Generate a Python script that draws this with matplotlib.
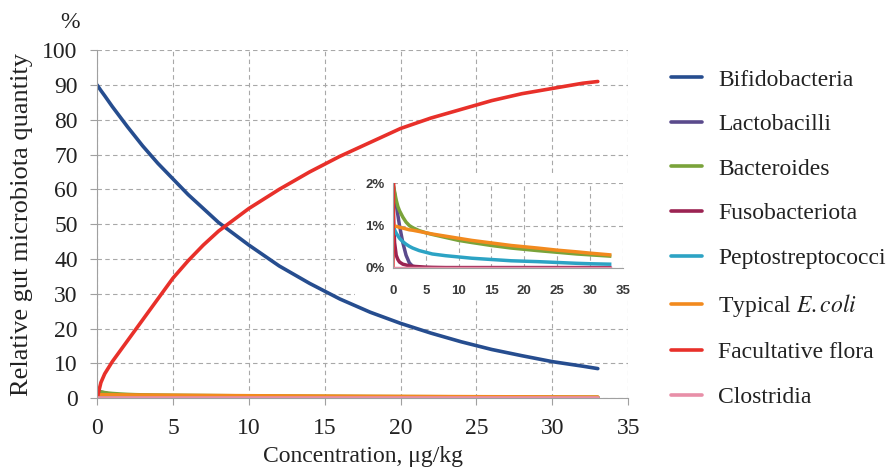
import matplotlib
matplotlib.use("Agg")
import matplotlib.pyplot as plt

plt.rcParams['font.family'] = ['Liberation Serif', 'DejaVu Serif']
plt.rcParams['mathtext.fontset'] = 'stix'

# main series (percent)
x_main = [0, 0.25, 0.5, 1, 1.5, 2, 3, 4, 5, 6, 7, 8, 10, 12, 14, 16, 18, 20, 22, 24, 26, 28, 30, 32, 33]
bifido = [90, 88.4, 86.9, 83.8, 80.9, 78, 72.5, 67.5, 63, 58.5, 54.5, 50.5, 44, 38, 33, 28.5, 24.7, 21.5, 18.7, 16.2, 14, 12.2, 10.5, 9.2, 8.5]
facult = [0, 4.5, 7, 10.5, 13.5, 16.5, 22.5, 28.5, 34.5, 39.5, 44, 48, 54.5, 60, 65, 69.5, 73.5, 77.5, 80.5, 83, 85.5, 87.5, 89, 90.5, 91]

# minor series (percent)
x_minor = [0, 0.25, 0.5, 0.75, 1, 1.5, 2, 2.5, 3, 4, 5, 6, 8, 10, 12, 15, 18, 20, 22, 25, 28, 30, 33]
lacto = [2.0, 1.75, 1.5, 1.25, 1.0, 0.6, 0.3, 0.12, 0.04, 0.01, 0, 0, 0, 0, 0, 0, 0, 0, 0, 0, 0, 0, 0]
bactero = [2.0, 1.8, 1.6, 1.45, 1.35, 1.2, 1.08, 1.0, 0.95, 0.88, 0.83, 0.79, 0.72, 0.65, 0.6, 0.53, 0.47, 0.44, 0.41, 0.37, 0.33, 0.31, 0.28]
fuso = [1.6, 0.6, 0.3, 0.2, 0.14, 0.09, 0.07, 0.05, 0.04, 0.03, 0.02, 0.015, 0.01, 0.01, 0.01, 0.01, 0.01, 0.01, 0.01, 0.01, 0.01, 0.01, 0.01]
pepto = [1.0, 0.9, 0.82, 0.76, 0.7, 0.62, 0.56, 0.51, 0.47, 0.41, 0.37, 0.33, 0.29, 0.26, 0.23, 0.2, 0.17, 0.16, 0.15, 0.13, 0.11, 0.1, 0.09]
ecoli = [1.0, 0.99, 0.98, 0.97, 0.96, 0.94, 0.92, 0.9, 0.89, 0.86, 0.83, 0.8, 0.75, 0.7, 0.65, 0.59, 0.53, 0.5, 0.47, 0.42, 0.38, 0.35, 0.31]
clostr = [0.01] * len(x_minor)

names = ['Bifidobacteria', 'Lactobacilli', 'Bacteroides', 'Fusobacteriota',
         'Peptostreptococci', 'Typical $\\mathit{E.coli}$', 'Facultative flora', 'Clostridia']
colors = ['#264D8F', '#5A4A8C', '#7AA33A', '#9B2352', '#2CA3C4', '#F28A1E', '#E8302A', '#E88FA8']

series = [(x_main, bifido), (x_minor, lacto), (x_minor, bactero), (x_minor, fuso),
          (x_minor, pepto), (x_minor, ecoli), (x_main, facult), (x_minor, clostr)]

FS = 17

fig = plt.figure(figsize=(8.91, 4.69), dpi=100)
ax = fig.add_axes([0.109, 0.151, 0.596, 0.742])

grid_kw = dict(color='#A8A8A8', linestyle=(0, (4, 3)), linewidth=0.8)

lines = []
for (xs, ys), name, c in zip(series, names, colors):
    ln, = ax.plot(xs, ys, color=c, lw=2.6, label=name, solid_capstyle='round')
    lines.append(ln)

ax.set_xlim(0, 35)
ax.set_ylim(0, 100)
ax.set_xticks(range(0, 36, 5))
ax.set_yticks(range(0, 101, 10))
ax.grid(True, **grid_kw)
ax.set_axisbelow(True)
for s in ['top', 'right']:
    ax.spines[s].set_visible(False)
for s in ['left', 'bottom']:
    ax.spines[s].set_color('#A0A0A0')
ax.tick_params(colors='#A0A0A0', labelcolor='#222222', labelsize=FS, length=5)
ax.tick_params(axis='y', pad=9)
ax.tick_params(axis='x', pad=9)
ax.set_xlabel('Concentration, μg/kg', fontsize=FS, color='#222222', labelpad=5)
ax.set_ylabel('Relative gut microbiota quantity', fontsize=19, color='#222222')
ax.yaxis.set_label_coords(-0.121, 0.5)
fig.text(0.079, 0.951, '%', fontsize=FS, ha='center', va='center', color='#222222')

# inset
bg = plt.Rectangle((0.398, 0.36), 0.31, 0.27, transform=fig.transFigure,
                   facecolor='white', edgecolor='none', zorder=2)
fig.patches.append(bg)
ins = fig.add_axes([0.441, 0.4286, 0.258, 0.181])
ins.set_zorder(3)
ins.patch.set_alpha(0)
for (xs, ys), c in zip(series, colors):
    ins.plot(xs, ys, color=c, lw=2.5)
ins.set_xlim(0, 35)
ins.set_ylim(0, 2)
ins.set_xticks(range(0, 36, 5))
ins.set_yticks([0, 1, 2])
ins.set_yticklabels(['0%', '1%', '2%'])
ins.grid(True, **grid_kw)
ins.set_axisbelow(True)
for s in ['top', 'right']:
    ins.spines[s].set_visible(False)
for s in ['left', 'bottom']:
    ins.spines[s].set_color('#A0A0A0')
ins.tick_params(colors='#A0A0A0', labelcolor='#3A3A3A', labelsize=9.5, length=0)
ins.tick_params(axis='x', pad=12)
ins.tick_params(axis='y', pad=6)
for lab in ins.get_xticklabels() + ins.get_yticklabels():
    lab.set_fontfamily('Liberation Sans')
    lab.set_fontweight('bold')

fig.legend(handles=lines, loc='upper left', bbox_to_anchor=(0.729, 0.898),
           frameon=False, fontsize=FS, handlelength=1.32, handletextpad=0.7,
           labelspacing=0.975, labelcolor='#222222')

fig.savefig('out.png', dpi=100)
